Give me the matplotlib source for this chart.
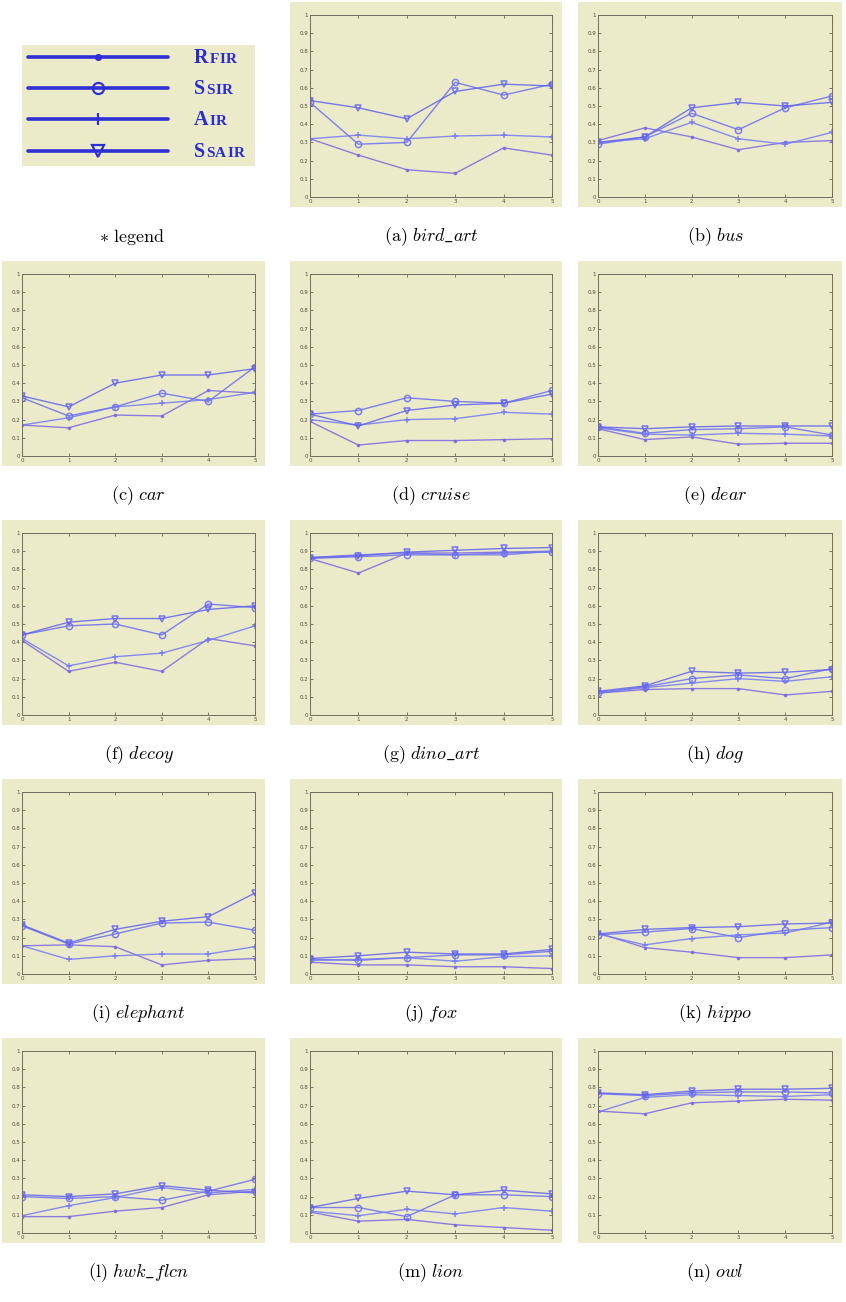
import matplotlib
matplotlib.use("Agg")
import matplotlib.pyplot as plt
from matplotlib.patches import Rectangle
from matplotlib.lines import Line2D
from matplotlib.offsetbox import TextArea, HPacker, AnnotationBbox

plt.rcParams['mathtext.fontset'] = 'cm'

W, H = 846, 1302
x_steps = [0, 1, 2, 3, 4, 5]
methods = ["RFIR", "SSIR", "AIR", "SSAIR"]
markers = {"RFIR": ".", "SSIR": "o", "AIR": "+", "SSAIR": "v"}

names = ["bird_art", "bus", "car", "cruise", "dear", "decoy", "dino_art",
         "dog", "elephant", "fox", "hippo", "hwk_flcn", "lion", "owl"]
letters = list("abcdefghijklmn")

rfir = {
    "bird_art": [0.32, 0.23, 0.15, 0.13, 0.27, 0.23],
    "bus":      [0.31, 0.38, 0.33, 0.26, 0.30, 0.31],
    "car":      [0.17, 0.155, 0.225, 0.22, 0.36, 0.345],
    "cruise":   [0.19, 0.06, 0.085, 0.085, 0.09, 0.095],
    "dear":     [0.15, 0.09, 0.105, 0.065, 0.07, 0.07],
    "decoy":    [0.41, 0.24, 0.29, 0.24, 0.42, 0.38],
    "dino_art": [0.86, 0.78, 0.89, 0.89, 0.895, 0.90],
    "dog":      [0.12, 0.14, 0.145, 0.145, 0.11, 0.13],
    "elephant": [0.155, 0.16, 0.15, 0.05, 0.075, 0.085],
    "fox":      [0.065, 0.05, 0.05, 0.04, 0.04, 0.03],
    "hippo":    [0.225, 0.145, 0.12, 0.09, 0.09, 0.105],
    "hwk_flcn": [0.09, 0.09, 0.12, 0.14, 0.21, 0.23],
    "lion":     [0.115, 0.065, 0.075, 0.045, 0.03, 0.015],
    "owl":      [0.67, 0.655, 0.715, 0.725, 0.735, 0.73],
}
ssir = {
    "bird_art": [0.52, 0.29, 0.30, 0.63, 0.56, 0.62],
    "bus":      [0.29, 0.33, 0.46, 0.37, 0.49, 0.555],
    "car":      [0.32, 0.22, 0.27, 0.345, 0.30, 0.49],
    "cruise":   [0.23, 0.25, 0.32, 0.30, 0.29, 0.36],
    "dear":     [0.16, 0.125, 0.145, 0.15, 0.16, 0.115],
    "decoy":    [0.44, 0.49, 0.50, 0.44, 0.61, 0.59],
    "dino_art": [0.86, 0.87, 0.88, 0.88, 0.89, 0.895],
    "dog":      [0.12, 0.155, 0.20, 0.22, 0.20, 0.255],
    "elephant": [0.265, 0.165, 0.22, 0.28, 0.285, 0.24],
    "fox":      [0.08, 0.075, 0.09, 0.105, 0.105, 0.125],
    "hippo":    [0.215, 0.23, 0.25, 0.20, 0.24, 0.255],
    "hwk_flcn": [0.20, 0.19, 0.20, 0.18, 0.23, 0.295],
    "lion":     [0.14, 0.14, 0.09, 0.21, 0.21, 0.20],
    "owl":      [0.765, 0.755, 0.77, 0.775, 0.775, 0.77],
}
air = {
    "bird_art": [0.32, 0.34, 0.32, 0.335, 0.34, 0.33],
    "bus":      [0.30, 0.32, 0.41, 0.32, 0.29, 0.355],
    "car":      [0.17, 0.21, 0.27, 0.29, 0.31, 0.35],
    "cruise":   [0.20, 0.17, 0.20, 0.205, 0.24, 0.23],
    "dear":     [0.155, 0.12, 0.115, 0.125, 0.12, 0.11],
    "decoy":    [0.42, 0.27, 0.32, 0.34, 0.41, 0.49],
    "dino_art": [0.865, 0.88, 0.89, 0.88, 0.88, 0.90],
    "dog":      [0.125, 0.15, 0.175, 0.20, 0.185, 0.21],
    "elephant": [0.155, 0.08, 0.10, 0.11, 0.11, 0.15],
    "fox":      [0.075, 0.08, 0.09, 0.07, 0.095, 0.10],
    "hippo":    [0.22, 0.16, 0.195, 0.215, 0.225, 0.285],
    "hwk_flcn": [0.095, 0.15, 0.195, 0.25, 0.22, 0.24],
    "lion":     [0.12, 0.095, 0.13, 0.105, 0.14, 0.12],
    "owl":      [0.665, 0.745, 0.76, 0.755, 0.75, 0.76],
}
ssair = {
    "bird_art": [0.53, 0.49, 0.43, 0.58, 0.62, 0.61],
    "bus":      [0.30, 0.33, 0.49, 0.52, 0.50, 0.52],
    "car":      [0.33, 0.27, 0.40, 0.445, 0.445, 0.48],
    "cruise":   [0.23, 0.165, 0.25, 0.28, 0.29, 0.34],
    "dear":     [0.16, 0.15, 0.16, 0.165, 0.165, 0.165],
    "decoy":    [0.44, 0.51, 0.53, 0.53, 0.58, 0.60],
    "dino_art": [0.865, 0.875, 0.895, 0.905, 0.915, 0.92],
    "dog":      [0.13, 0.16, 0.24, 0.23, 0.235, 0.25],
    "elephant": [0.27, 0.17, 0.245, 0.29, 0.315, 0.445],
    "fox":      [0.085, 0.10, 0.12, 0.11, 0.11, 0.135],
    "hippo":    [0.22, 0.245, 0.255, 0.26, 0.275, 0.28],
    "hwk_flcn": [0.21, 0.20, 0.215, 0.26, 0.235, 0.22],
    "lion":     [0.14, 0.19, 0.23, 0.21, 0.235, 0.215],
    "owl":      [0.77, 0.76, 0.78, 0.79, 0.79, 0.795],
}
series = {"RFIR": rfir, "SSIR": ssir, "AIR": air, "SSAIR": ssair}
y_ticks = [0, 0.1, 0.2, 0.3, 0.4, 0.5, 0.6, 0.7, 0.8, 0.9, 1]
y_ticklabels = ["0", "0.1", "0.2", "0.3", "0.4", "0.5", "0.6", "0.7", "0.8", "0.9", "1"]

BEIGE = "#ecebc9"
line_colors = {"RFIR": "#7a68e2", "SSIR": "#6a6cf2", "AIR": "#7478f4", "SSAIR": "#6262ee"}

fig = plt.figure(figsize=(W / 100, H / 100), dpi=100)
fig.patch.set_facecolor("white")


def fx(x):
    return x / W


def fy(y):
    return 1 - y / H


def add_rect(x0, y0, x1, y1, color):
    fig.patches.append(Rectangle((fx(x0), fy(y1)), fx(x1) - fx(x0), fy(y0) - fy(y1),
                                 transform=fig.transFigure, facecolor=color,
                                 edgecolor="none", zorder=-5))


col_axes = [(22, 255), (310, 552), (598, 832)]
row_top = [15, 274, 533, 792, 1051]
AX_H = 182

# legend cell
add_rect(22, 45, 255, 166, BEIGE)
leg_ys = [57, 88, 119, 151]
for m, yy in zip(methods, leg_ys):
    fig.add_artist(Line2D([fx(28), fx(168)], [fy(yy), fy(yy)], transform=fig.transFigure,
                          color="#2f2fd6", lw=2.6, solid_capstyle="round"))
    fig.add_artist(Line2D([fx(98)], [fy(yy)], transform=fig.transFigure, color="#2f2fd6",
                          marker=markers[m], markersize={"RFIR": 7, "SSIR": 8, "AIR": 9, "SSAIR": 9}[m],
                          markerfacecolor=("#2f2fd6" if m == "RFIR" else "none"),
                          markeredgewidth=1.6))
    parts = []
    for i, ch in enumerate(m):
        parts.append(TextArea(ch, textprops=dict(fontsize=(14.5 if i == 0 else 11),
                                                 fontweight="bold", family="Liberation Serif",
                                                 color="#2b2bd4")))
    pack = HPacker(children=parts, align="baseline", pad=0, sep=0.6)
    ab = AnnotationBbox(pack, (fx(194), fy(yy + 1)), xycoords="figure fraction",
                        box_alignment=(0, 0.5), frameon=False, pad=0)
    fig.add_artist(ab)

fig.text(fx(132), fy(237), r"$*\ \mathrm{legend}$", ha="center", va="center", fontsize=13)

positions = []
for r in range(5):
    for c in range(3):
        if r == 0 and c == 0:
            continue
        positions.append((r, c))

for idx, (r, c) in enumerate(positions):
    nm = names[idx]
    x0, x1 = col_axes[c]
    top = row_top[r]
    bot = top + AX_H
    add_rect(x0 - 20, top - 13, min(x1 + 10, W), bot + 10, BEIGE)
    ax = fig.add_axes([fx(x0), fy(bot), fx(x1) - fx(x0), fy(top) - fy(bot)])
    ax.set_facecolor(BEIGE)
    for m in methods:
        ax.plot(x_steps, series[m][nm], color=line_colors[m], lw=1.0, alpha=0.85,
                marker=markers[m], markersize={"RFIR": 3, "SSIR": 4.5, "AIR": 4.5, "SSAIR": 4.5}[m],
                markerfacecolor=(line_colors[m] if m == "RFIR" else "none"),
                markeredgewidth=1.1)
    ax.set_xlim(0, 5)
    ax.set_ylim(0, 1)
    ax.set_xticks(x_steps)
    ax.set_yticks(y_ticks)
    ax.set_yticklabels(y_ticklabels)
    ax.tick_params(direction="in", length=2.5, width=0.5, labelsize=4, colors="#4a4a40",
                   top=True, right=True, pad=1.5)
    for sp in ax.spines.values():
        sp.set_color("#6e6e60")
        sp.set_linewidth(0.7)
    esc = nm.replace("_", r"\_")
    fig.text(fx((x0 + x1) / 2), fy(bot + 40),
             r"$\mathrm{(" + letters[idx] + r")}\ \mathit{" + esc + "}$",
             ha="center", va="center", fontsize=13)

fig.savefig("out.png", dpi=100, facecolor="white")
